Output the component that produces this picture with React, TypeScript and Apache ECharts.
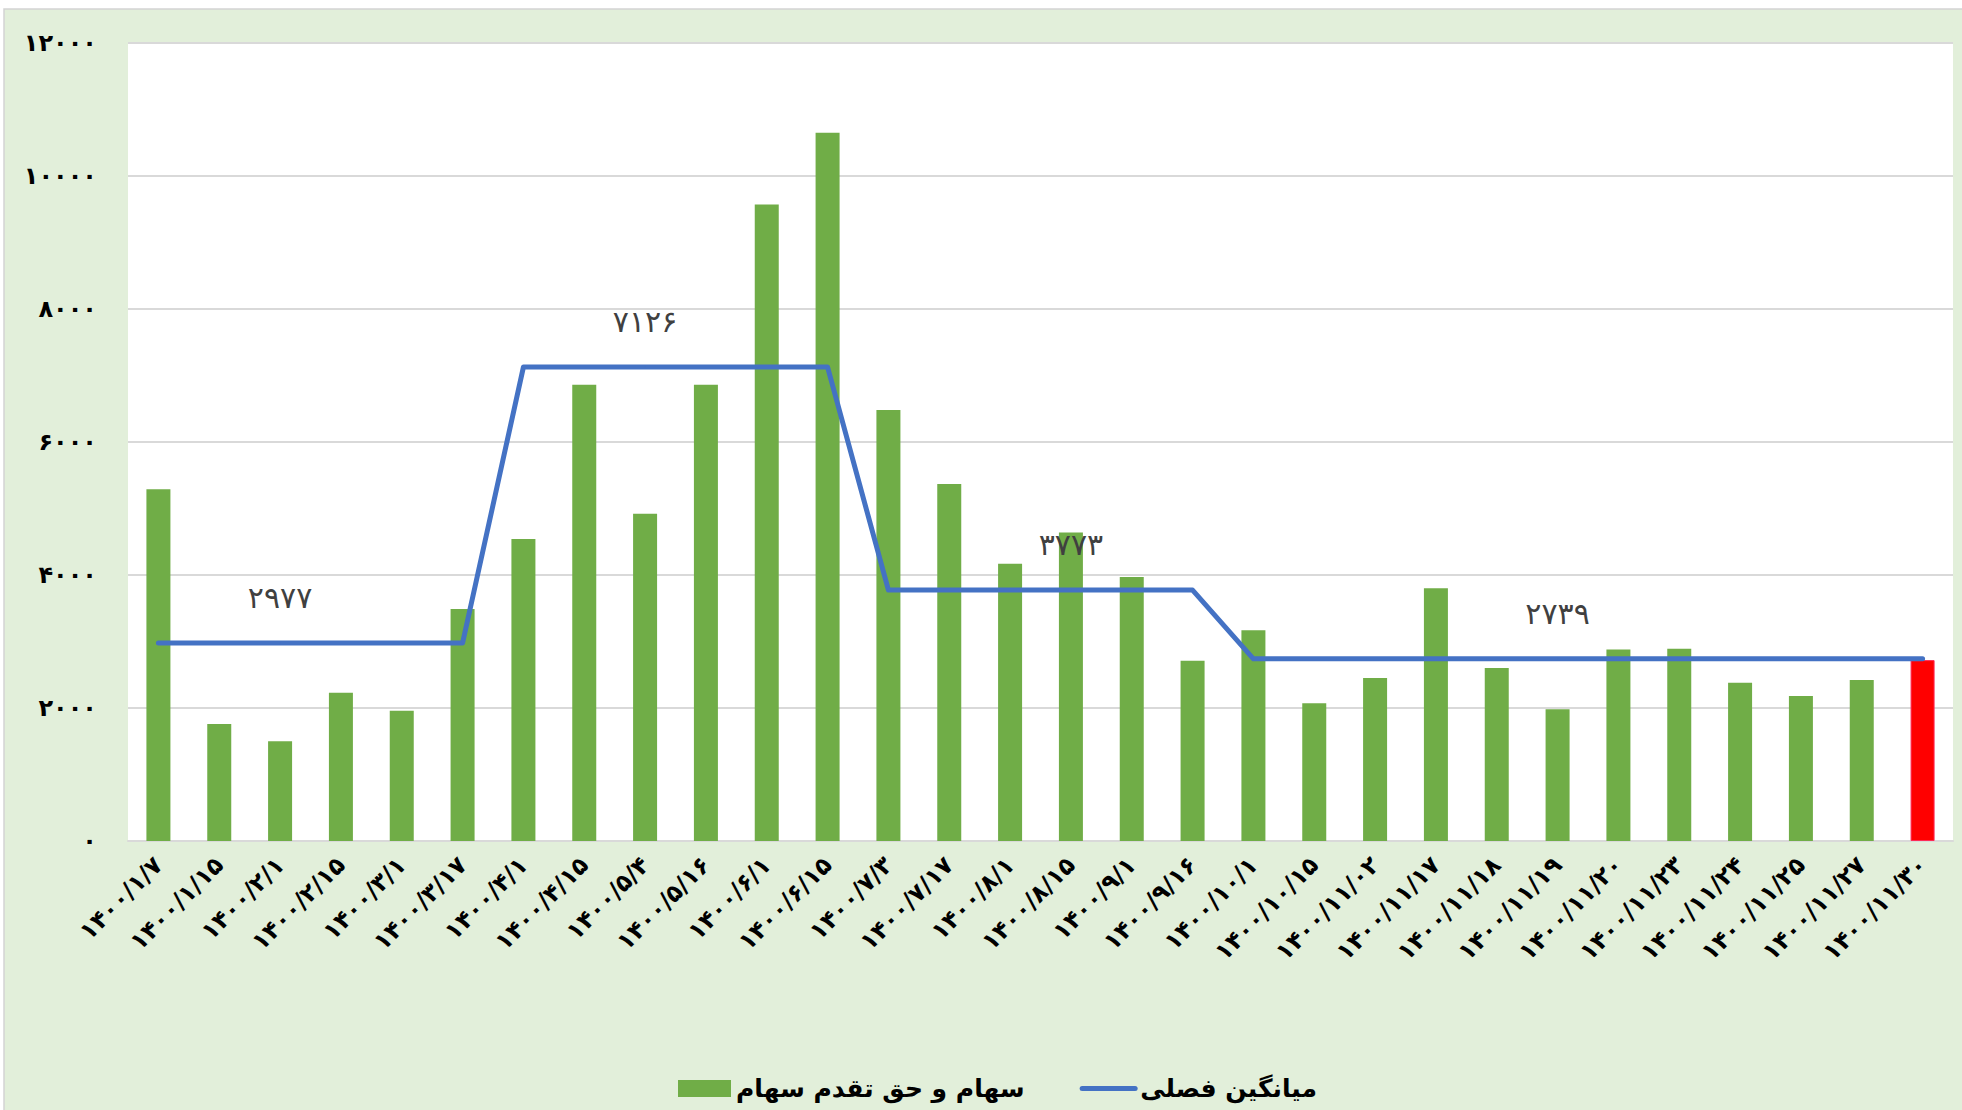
import React, { useEffect, useRef } from "react";
import * as echarts from "echarts";

const categories = [
  "۱۴۰۰/۱/۷", "۱۴۰۰/۱/۱۵", "۱۴۰۰/۲/۱", "۱۴۰۰/۲/۱۵", "۱۴۰۰/۳/۱", "۱۴۰۰/۳/۱۷",
  "۱۴۰۰/۴/۱", "۱۴۰۰/۴/۱۵", "۱۴۰۰/۵/۴", "۱۴۰۰/۵/۱۶", "۱۴۰۰/۶/۱", "۱۴۰۰/۶/۱۵",
  "۱۴۰۰/۷/۳", "۱۴۰۰/۷/۱۷", "۱۴۰۰/۸/۱", "۱۴۰۰/۸/۱۵", "۱۴۰۰/۹/۱", "۱۴۰۰/۹/۱۶",
  "۱۴۰۰/۱۰/۱", "۱۴۰۰/۱۰/۱۵", "۱۴۰۰/۱۱/۰۲", "۱۴۰۰/۱۱/۱۷", "۱۴۰۰/۱۱/۱۸", "۱۴۰۰/۱۱/۱۹",
  "۱۴۰۰/۱۱/۲۰", "۱۴۰۰/۱۱/۲۳", "۱۴۰۰/۱۱/۲۴", "۱۴۰۰/۱۱/۲۵", "۱۴۰۰/۱۱/۲۷", "۱۴۰۰/۱۱/۳۰",
];

const stockValues = [
  5290, 1760, 1500, 2230, 1960, 3490,
  4540, 6860, 4920, 6860, 9570, 10650,
  6480, 5370, 4170, 4640, 3970, 2710,
  3170, 2070, 2450, 3800, 2600, 1980,
  2880, 2890, 2380, 2180, 2420, 2720,
];

const seasonalAverage = [
  2977, 2977, 2977, 2977, 2977, 2977,
  7126, 7126, 7126, 7126, 7126, 7126,
  3773, 3773, 3773, 3773, 3773, 3773,
  2739, 2739, 2739, 2739, 2739, 2739,
  2739, 2739, 2739, 2739, 2739, 2739,
];

const averageLabelIndices = [2, 8, 15, 23];
const highlightIndex = 29;

const yTickValues = [0, 2000, 4000, 6000, 8000, 10000, 12000];
const yTickLabels = ["۰", "۲۰۰۰", "۴۰۰۰", "۶۰۰۰", "۸۰۰۰", "۱۰۰۰۰", "۱۲۰۰۰"];

const barSeriesName = "سهام و حق تقدم سهام";
const lineSeriesName = "میانگین فصلی";

const FONT = "DejaVu Sans";
const faDigits = "۰۱۲۳۴۵۶۷۸۹";
const toFa = (n: number | string) => String(n).replace(/\d/g, (d) => faDigits[+d]);

export default function App() {
  const ref = useRef<HTMLDivElement>(null);

  useEffect(() => {
    if (!ref.current) return;
    const chart = echarts.init(ref.current, undefined, { renderer: "svg" });

    const option: any = {
      animation: false,
      backgroundColor: "#ffffff",
      textStyle: { fontFamily: FONT },
      graphic: [
        {
          type: "rect",
          z: -10,
          silent: true,
          shape: { x: 4, y: 9, width: 1980, height: 1120 },
          style: { fill: "#E2EFDA", stroke: "#D3D3D3", lineWidth: 1.5 },
        },
      ],
      grid: {
        left: 128,
        right: 9,
        top: 43,
        bottom: 269,
        show: true,
        backgroundColor: "#ffffff",
        borderWidth: 0,
      },
      legend: {
        data: [
          { name: barSeriesName, icon: "rect" },
          {
            name: lineSeriesName,
            itemStyle: { opacity: 0, color: "transparent", borderWidth: 0 },
            lineStyle: { color: "#4472C4", width: 5, cap: "round" },
          },
        ],
        left: 673,
        top: 1071,
        itemWidth: 53,
        itemHeight: 17,
        itemGap: 55,
        textStyle: {
          fontFamily: FONT,
          fontSize: 25,
          fontWeight: "bold",
          color: "#000000",
        },
      },
      xAxis: {
        type: "category",
        data: categories,
        boundaryGap: true,
        axisLine: { lineStyle: { color: "#D9D9D9", width: 2 } },
        axisTick: { show: false },
        axisLabel: {
          interval: 0,
          rotate: 45,
          margin: 20,
          fontFamily: FONT,
          fontSize: 24,
          fontWeight: "bold",
          color: "#000000",
        },
      },
      yAxis: {
        type: "value",
        min: 0,
        max: 12000,
        interval: 2000,
        axisLine: { show: false },
        axisTick: { show: false },
        splitLine: { lineStyle: { color: "#D9D9D9", width: 2 } },
        axisLabel: {
          margin: 31,
          fontFamily: FONT,
          fontSize: 24,
          fontWeight: "bold",
          color: "#000000",
          formatter: (v: number) => {
            const i = yTickValues.indexOf(v);
            return i >= 0 ? yTickLabels[i] : toFa(v);
          },
        },
      },
      series: [
        {
          name: barSeriesName,
          type: "bar",
          barWidth: 24,
          itemStyle: { color: "#70AD47" },
          data: stockValues.map((v, i) =>
            i === highlightIndex
              ? { value: v, itemStyle: { color: "#FF0000", borderColor: "#FF2A55", borderWidth: 1 } }
              : v
          ),
          z: 2,
        },
        {
          name: lineSeriesName,
          type: "line",
          symbol: "none",
          showSymbol: true,
          lineStyle: { color: "#4472C4", width: 5, cap: "round", join: "round" },
          itemStyle: { color: "#4472C4" },
          label: {
            show: false,
            position: "top",
            distance: 30,
            fontFamily: FONT,
            fontSize: 30,
            color: "#404040",
            formatter: (p: any) => toFa(p.value),
          },
          data: seasonalAverage.map((v, i) =>
            averageLabelIndices.includes(i)
              ? { value: v, symbol: "circle", symbolSize: 1, label: { show: true } }
              : v
          ),
          z: 3,
        },
      ],
    };

    chart.setOption(option);
    return () => chart.dispose();
  }, []);

  return (
    <div
      ref={ref}
      style={{ position: "fixed", left: 0, top: 0, width: 1962, height: 1110 }}
    />
  );
}
